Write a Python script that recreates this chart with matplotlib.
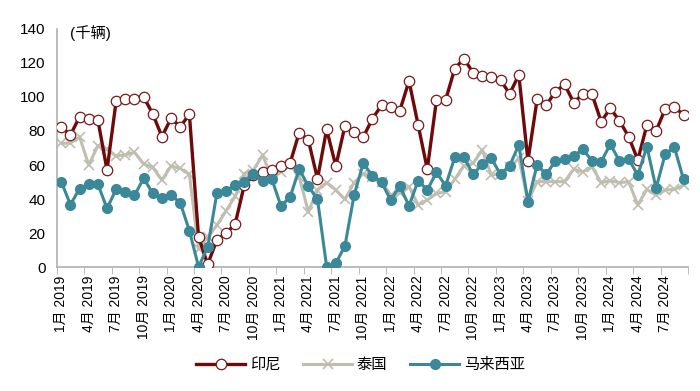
import numpy as np
import matplotlib
matplotlib.use("Agg")
import matplotlib.pyplot as plt

plt.rcParams['font.family'] = ['Liberation Sans', 'Noto Sans CJK SC']

# =====================
# Data (thousand units, monthly Jan 2019 - Sep 2024)
# =====================
years = [2019, 2020, 2021, 2022, 2023, 2024]
months = [f"{y}-{m:02d}" for y in years for m in range(1, 13)][:69]

indonesia = [82.5, 77.6, 88.4, 87, 86.5, 57, 97.8, 99, 99, 100, 90, 76.7,
             87.5, 82.5, 89.8, 17.8, 1.6, 15.9, 19.8, 25.3, 48.2, 54, 55.7, 57,
             59.4, 61, 79, 74.7, 51.8, 81, 59.4, 83, 79.6, 76.3, 87.3, 95,
             94, 92, 109.4, 83.5, 57.5, 98.2, 98.2, 116.7, 122.5, 114.3, 112.4, 112,
             110, 101.8, 113, 62.5, 98.6, 95.3, 103, 107.4, 96.7, 101.8, 101.6, 85.5,
             93.3, 86, 76.7, 63, 83.5, 80, 93, 94.3, 89.4]

thailand = [72.7, 72.9, 76.5, 60, 71.3, 69.2, 65.3, 66, 67.5, 60.6, 58.6, 51.2,
            59.4, 58, 54.5, 10.5, 17.8, 24.5, 33, 41.5, 55, 57, 65.9, 52.2,
            56, 60, 53, 32.5, 45.3, 49.6, 45.3, 39.8, 49.6, 55, 53, 50.2,
            42.3, 43.3, 47.3, 36.5, 39.4, 43.3, 44.3, 51.6, 59.5, 61, 68.8, 54,
            55, 58.6, 64, 38.8, 50.2, 50.2, 50.2, 50.2, 57.5, 56, 59, 49.6,
            50.8, 49.6, 50.2, 36.5, 45.7, 42.3, 45.3, 45.7, 48.2]

malaysia = [50.2, 36.7, 46.1, 48.7, 48.6, 34.5, 45.8, 44.3, 42.1, 52.2, 43.3, 40.4,
            42.3, 37.8, 21.4, 0.2, 11.6, 43.3, 44.9, 48, 50.2, 54.7, 50.8, 51.8,
            36, 41, 57.6, 47.6, 39.8, 0.2, 2.1, 12.5, 42.3, 61, 53.7, 49.8,
            39.4, 47.6, 36, 50.8, 45.3, 55.7, 47.8, 64.5, 64.5, 54.5, 60.4, 63.9,
            54.5, 59.6, 71.8, 38.4, 60, 54.5, 62.4, 63.5, 65.3, 69.2, 62.5, 62,
            72.2, 62.4, 63.5, 54.1, 70.8, 46.3, 66.5, 70.4, 51.6]

tick_labels = [f"{m}月 {y}" for y in years for m in (1, 4, 7, 10)][:23]

# =====================
# Plot
# =====================
x = np.arange(len(months))

fig = plt.figure(figsize=(7, 3.91), dpi=100)
ax = fig.add_axes([0.081, 0.317, 0.902, 0.609])

ax.plot(x, thailand, color='#bfbeb0', lw=2.2, marker='x', ms=6.5, mew=1.2,
        label='泰国', zorder=2)
ax.plot(x, indonesia, color='#6e0a0a', lw=2.4, marker='o', ms=7.5,
        mfc='white', mec='#7a1a1a', mew=0.9, label='印尼', zorder=3)
ax.plot(x, malaysia, color='#3a8898', lw=2.2, marker='o', ms=7,
        mec='#3a8898', label='马来西亚', zorder=4)

ax.set_xlim(-0.5, len(months) - 0.5)
ax.set_ylim(0, 140)
ax.set_yticks(range(0, 141, 20))
ax.tick_params(axis='y', length=0, labelsize=11, pad=8)

ax.set_xticks(x[::3])
ax.set_xticklabels(tick_labels, rotation=90, fontsize=10)
ax.set_xticks(np.arange(-0.5, len(months), 3), minor=True)
ax.tick_params(axis='x', which='major', length=0, pad=6)
ax.tick_params(axis='x', which='minor', length=5, color='#b0b0b0')

for s in ['top', 'right']:
    ax.spines[s].set_visible(False)
for s in ['left', 'bottom']:
    ax.spines[s].set_color('#b0b0b0')
    ax.spines[s].set_linewidth(1.2)

ax.text(1.0, 137.5, '(千辆)', fontsize=11, va='center', ha='left')

handles, labels = ax.get_legend_handles_labels()
order = [1, 0, 2]
fig.legend([handles[i] for i in order], [labels[i] for i in order],
           loc='center', bbox_to_anchor=(0.515, 0.067), ncol=3, frameon=False,
           fontsize=11, handlelength=3.2, columnspacing=1.5, handletextpad=0.3)

fig.savefig('out.png', dpi=100)
